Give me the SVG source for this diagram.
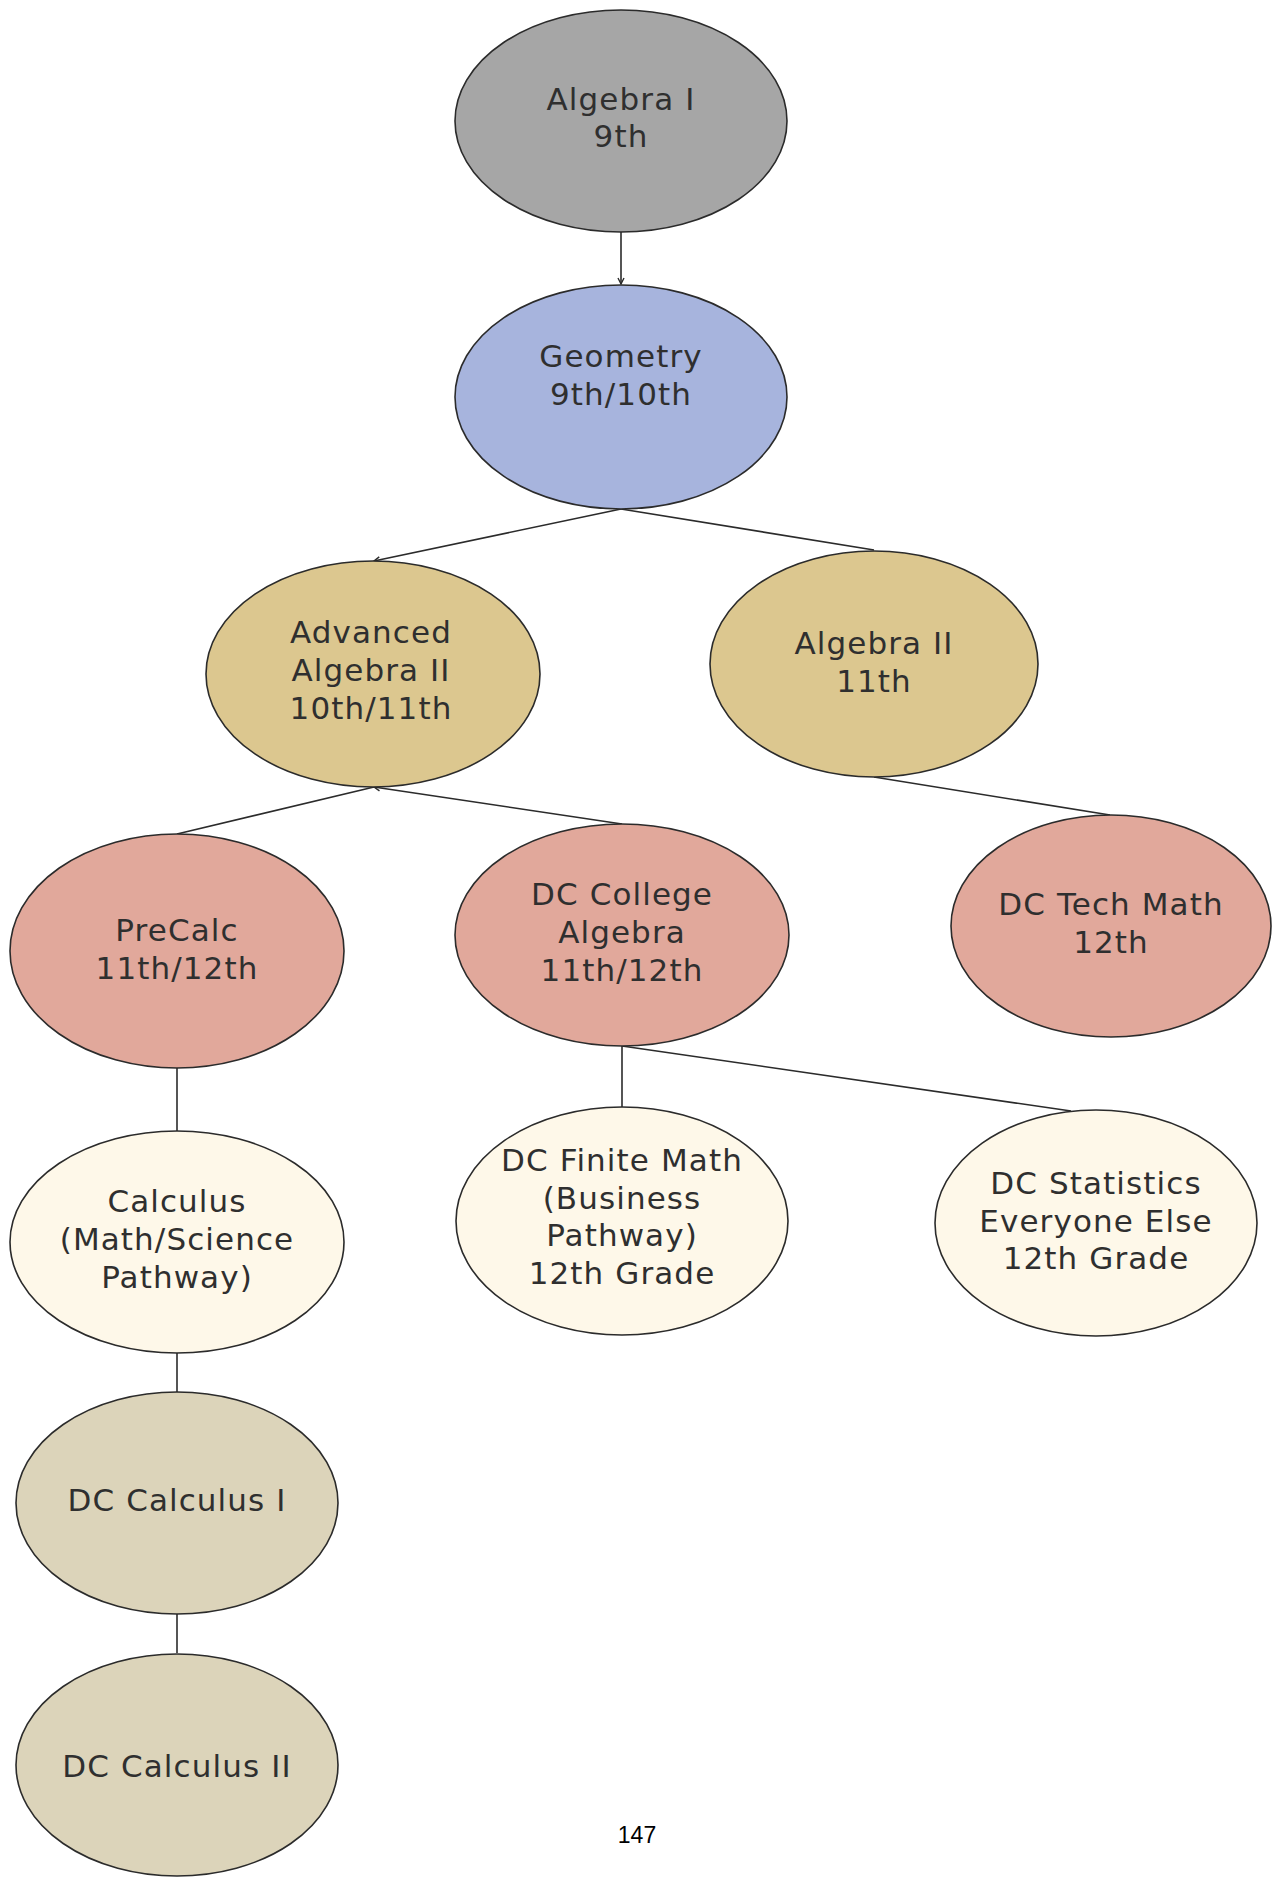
<svg xmlns="http://www.w3.org/2000/svg" width="1275" height="1879" viewBox="0 0 1275 1879">
<style>
.n ellipse{stroke:#2b2b2b;stroke-width:1.6}
.n text{font-family:"DejaVu Sans","Liberation Sans",sans-serif;font-size:31px;fill:#2f2f2f;text-anchor:middle;letter-spacing:1.1px}
.c line{stroke:#2b2b2b;stroke-width:1.6;fill:none}
.gray{fill:#a6a6a6}.blue{fill:#a7b4dd}.gold{fill:#dcc78f}.salmon{fill:#e1a89b}.cream{fill:#fef8e9}.tan{fill:#dcd4ba}
</style>
<defs>
<marker id="ah" markerUnits="userSpaceOnUse" markerWidth="10" markerHeight="10" refX="7" refY="4" orient="auto">
<path d="M1,1 L7,4 L1,7" fill="none" stroke="#2b2b2b" stroke-width="1.4"/>
</marker>
</defs>
<rect width="1275" height="1879" fill="#ffffff"/>
<g class="c" id="connectors">
<line x1="621" y1="232" x2="621" y2="284" marker-end="url(#ah)"/>
<line x1="621" y1="509" x2="374" y2="561" marker-end="url(#ah)"/>
<line x1="621" y1="509" x2="874" y2="550"/>
<line x1="177" y1="834" x2="374" y2="787"/>
<line x1="622" y1="824" x2="374" y2="787" marker-end="url(#ah)"/>
<line x1="874" y1="777" x2="1110" y2="815"/>
<line x1="177" y1="1067" x2="177" y2="1131"/>
<line x1="622" y1="1046" x2="622" y2="1107"/>
<line x1="622" y1="1046" x2="1071" y2="1111"/>
<line x1="177" y1="1353" x2="177" y2="1393"/>
<line x1="177" y1="1614" x2="177" y2="1653"/>
</g>
<g class="n" id="algebra1"><ellipse class="gray" cx="621" cy="121" rx="166" ry="111"/><text x="621" y="110">Algebra I</text><text x="621" y="147">9th</text></g>
<g class="n" id="geometry"><ellipse class="blue" cx="621" cy="397" rx="166" ry="112"/><text x="621" y="367">Geometry</text><text x="621" y="405">9th/10th</text></g>
<g class="n" id="advalg2"><ellipse class="gold" cx="373" cy="674" rx="167" ry="113"/><text x="371" y="643">Advanced</text><text x="371" y="681">Algebra II</text><text x="371" y="719">10th/11th</text></g>
<g class="n" id="alg2"><ellipse class="gold" cx="874" cy="664" rx="164" ry="113"/><text x="874" y="654">Algebra II</text><text x="874" y="692">11th</text></g>
<g class="n" id="precalc"><ellipse class="salmon" cx="177" cy="951" rx="167" ry="117"/><text x="177" y="941">PreCalc</text><text x="177" y="979">11th/12th</text></g>
<g class="n" id="dccollege"><ellipse class="salmon" cx="622" cy="935" rx="167" ry="111"/><text x="622" y="905">DC College</text><text x="622" y="943">Algebra</text><text x="622" y="981">11th/12th</text></g>
<g class="n" id="dctech"><ellipse class="salmon" cx="1111" cy="926" rx="160" ry="111"/><text x="1111" y="915">DC Tech Math</text><text x="1111" y="953">12th</text></g>
<g class="n" id="calculus"><ellipse class="cream" cx="177" cy="1242" rx="167" ry="111"/><text x="177" y="1212">Calculus</text><text x="177" y="1250">(Math/Science</text><text x="177" y="1288">Pathway)</text></g>
<g class="n" id="dcfinite"><ellipse class="cream" cx="622" cy="1221" rx="166" ry="114"/><text x="622" y="1171">DC Finite Math</text><text x="622" y="1209">(Business</text><text x="622" y="1246">Pathway)</text><text x="622" y="1284">12th Grade</text></g>
<g class="n" id="dcstats"><ellipse class="cream" cx="1096" cy="1223" rx="161" ry="113"/><text x="1096" y="1194">DC Statistics</text><text x="1096" y="1232">Everyone Else</text><text x="1096" y="1269">12th Grade</text></g>
<g class="n" id="dccalc1"><ellipse class="tan" cx="177" cy="1503" rx="161" ry="111"/><text x="177" y="1511">DC Calculus I</text></g>
<g class="n" id="dccalc2"><ellipse class="tan" cx="177" cy="1765" rx="161" ry="111"/><text x="177" y="1777">DC Calculus II</text></g>
<text x="637" y="1843" font-family="Liberation Sans, Arial, sans-serif" font-size="23" fill="#000000" text-anchor="middle">147</text>
</svg>
